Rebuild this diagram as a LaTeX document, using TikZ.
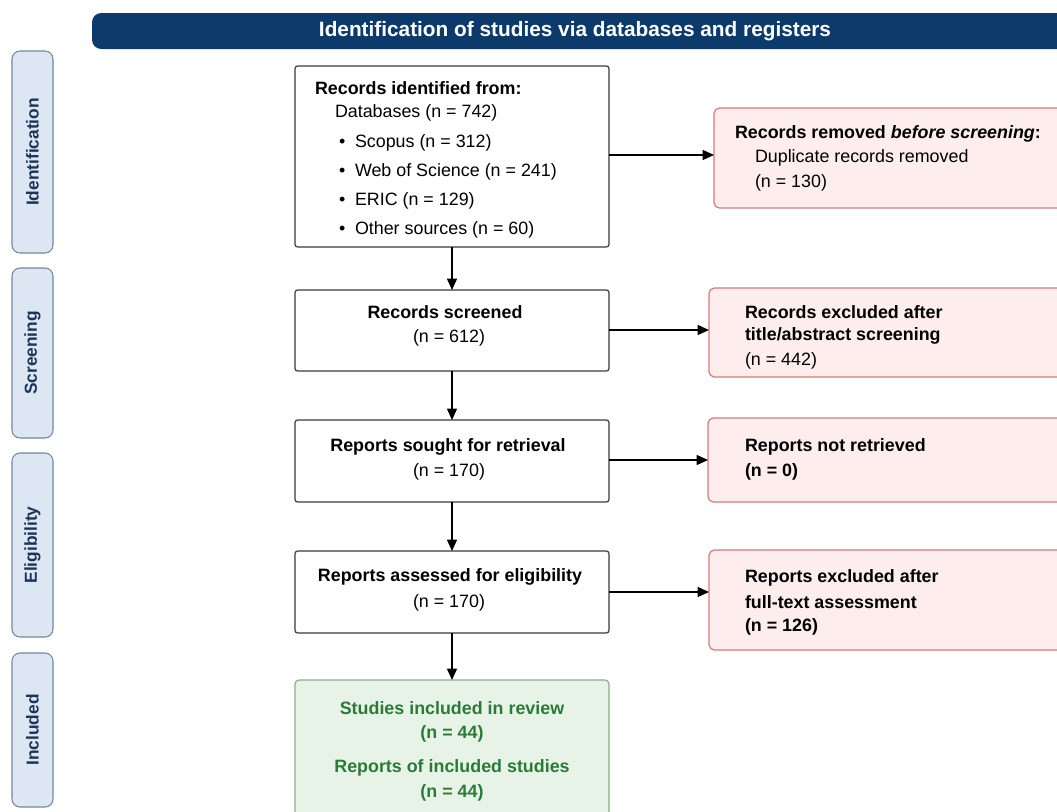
\documentclass[tikz,border=0pt]{standalone}
\usepackage{fontspec}
\setmainfont{Liberation Sans}
\usetikzlibrary{fit,arrows.meta}
\definecolor{navy}{HTML}{0B3A6B}
\definecolor{phasefill}{HTML}{DDE7F3}
\definecolor{phasedraw}{HTML}{74879F}
\definecolor{phasetext}{HTML}{1B3458}
\definecolor{redfill}{HTML}{FDEDED}
\definecolor{reddraw}{HTML}{D77A7E}
\definecolor{greenfill}{HTML}{E7F3E7}
\definecolor{greendraw}{HTML}{8AB08C}
\definecolor{greentext}{HTML}{2C7A38}
\definecolor{boxdraw}{HTML}{3A3A3A}
\newcommand\myfs{\fontsize{13.4}{16}\selectfont}
\begin{document}
\begin{tikzpicture}[x=0.75pt,y=-0.75pt,
  every node/.style={inner sep=0pt, outer sep=0pt},
  mainbox/.style={draw=boxdraw, line width=0.9pt, fill=white, rounded corners=2pt},
  redbox/.style={draw=reddraw, line width=0.9pt, fill=redfill, rounded corners=4pt},
  greenbox/.style={draw=greendraw, line width=0.9pt, fill=greenfill, rounded corners=3pt},
  phasebox/.style={draw=phasedraw, line width=0.8pt, fill=phasefill, rounded corners=6pt},
  phaselabel/.style={rotate=90, font=\bfseries\fontsize{13}{15}\selectfont, text=phasetext},
  lt/.style={anchor=west, font=\myfs},
  ltb/.style={anchor=west, font=\bfseries\myfs},
  ct/.style={font=\myfs},
  ctb/.style={font=\bfseries\myfs},
  gt/.style={font=\bfseries\myfs, text=greentext},
  arr/.style={-{Triangle[length=8.5pt,width=7.5pt]}, line width=0.9pt, draw=black}]
\path[use as bounding box] (0,0) rectangle (1057,811);
\clip (0,0) rectangle (1057,811);
\fill[white] (0,0) rectangle (1057,811);

% banner
\node[fill=navy, rounded corners=7pt, fit={(92,13)(1100,49)}] (banner) {};
\node[font=\bfseries\fontsize{15.6}{18}\selectfont, text=white] (bannertext) at (575,31) {Identification of studies via databases and registers};

% phase boxes
\node[phasebox, fit={(12,51)(53,253)}] (p1) {};
\node[phasebox, fit={(12,268)(53,438)}] (p2) {};
\node[phasebox, fit={(12,453)(53,637)}] (p3) {};
\node[phasebox, fit={(12,653)(53,807)}] (p4) {};
\node[phaselabel] (p1t) at (p1.center) {Identification};
\node[phaselabel] (p2t) at (p2.center) {Screening};
\node[phaselabel] (p3t) at (p3.center) {Eligibility};
\node[phaselabel] (p4t) at (p4.center) {Included};

% main boxes
\node[mainbox, fit={(295,66)(609,247)}] (b1) {};
\node[mainbox, fit={(295,290)(609,371)}] (b2) {};
\node[mainbox, fit={(295,420)(609,502)}] (b3) {};
\node[mainbox, fit={(295,551)(609,633)}] (b4) {};
\node[greenbox, fit={(295,680)(609,840)}] (g1) {};

% red boxes
\node[redbox, fit={(714,108)(1100,208)}] (r1) {};
\node[redbox, fit={(709,288)(1100,377)}] (r2) {};
\node[redbox, fit={(708,418)(1100,502)}] (r3) {};
\node[redbox, fit={(709,550)(1100,650)}] (r4) {};

% box 1 text
\node[ltb] (b1a) at (315,88) {Records identified from:};
\node[lt] (b1b) at (335,113) {Databases (n = 742)};
\node[lt] (b1c1) at (339,143) {\textbullet};
\node[lt] (b1c) at (355,143) {Scopus (n = 312)};
\node[lt] (b1d1) at (339,172) {\textbullet};
\node[lt] (b1d) at (355,172) {Web of Science (n = 241)};
\node[lt] (b1e1) at (339,201) {\textbullet};
\node[lt] (b1e) at (355,201) {ERIC (n = 129)};
\node[lt] (b1f1) at (339,230) {\textbullet};
\node[lt] (b1f) at (355,230) {Other sources (n = 60)};

% main box texts
\node[ctb] (b2a) at (445,312) {Records screened};
\node[ct] (b2b) at (449,338) {(n = 612)};
\node[ctb] (b3a) at (448,447) {Reports sought for retrieval};
\node[ct] (b3b) at (449,472) {(n = 170)};
\node[ctb] (b4a) at (450,577) {Reports assessed for eligibility};
\node[ct] (b4b) at (449,603) {(n = 170)};

% green texts
\node[gt] (g1a) at (452,708) {Studies included in review};
\node[gt] (g1b) at (452,734) {(n = 44)};
\node[gt] (g1c) at (452,768) {Reports of included studies};
\node[gt] (g1d) at (452,793) {(n = 44)};

% red texts
\node[ltb] (r1a) at (735,134) {Records removed \textit{before screening}:};
\node[lt] (r1b) at (755,158) {Duplicate records removed};
\node[lt] (r1c) at (755,183) {(n = 130)};
\node[ltb] (r2a) at (745,312) {Records excluded after};
\node[ltb] (r2b) at (745,336) {title/abstract screening};
\node[lt] (r2c) at (745,361) {(n = 442)};
\node[ltb] (r3a) at (745,447) {Reports not retrieved};
\node[ltb] (r3b) at (745,472) {(n = 0)};
\node[ltb] (r4a) at (745,578) {Reports excluded after};
\node[ltb] (r4b) at (745,602) {full-text assessment};
\node[ltb] (r4c) at (745,627) {(n = 126)};

% vertical arrows
\draw[arr] (b1.south -| 452,0) -- (b2.north -| 452,0);
\draw[arr] (b2.south -| 452,0) -- (b3.north -| 452,0);
\draw[arr] (b3.south -| 452,0) -- (b4.north -| 452,0);
\draw[arr] (b4.south -| 452,0) -- (g1.north -| 452,0);

% horizontal arrows
\draw[arr] (b1.east |- 0,155) -- (r1.west |- 0,155);
\draw[arr] (b2.east |- 0,330) -- (r2.west |- 0,330);
\draw[arr] (b3.east |- 0,460) -- (r3.west |- 0,460);
\draw[arr] (b4.east |- 0,592) -- (r4.west |- 0,592);
\end{tikzpicture}
\end{document}
